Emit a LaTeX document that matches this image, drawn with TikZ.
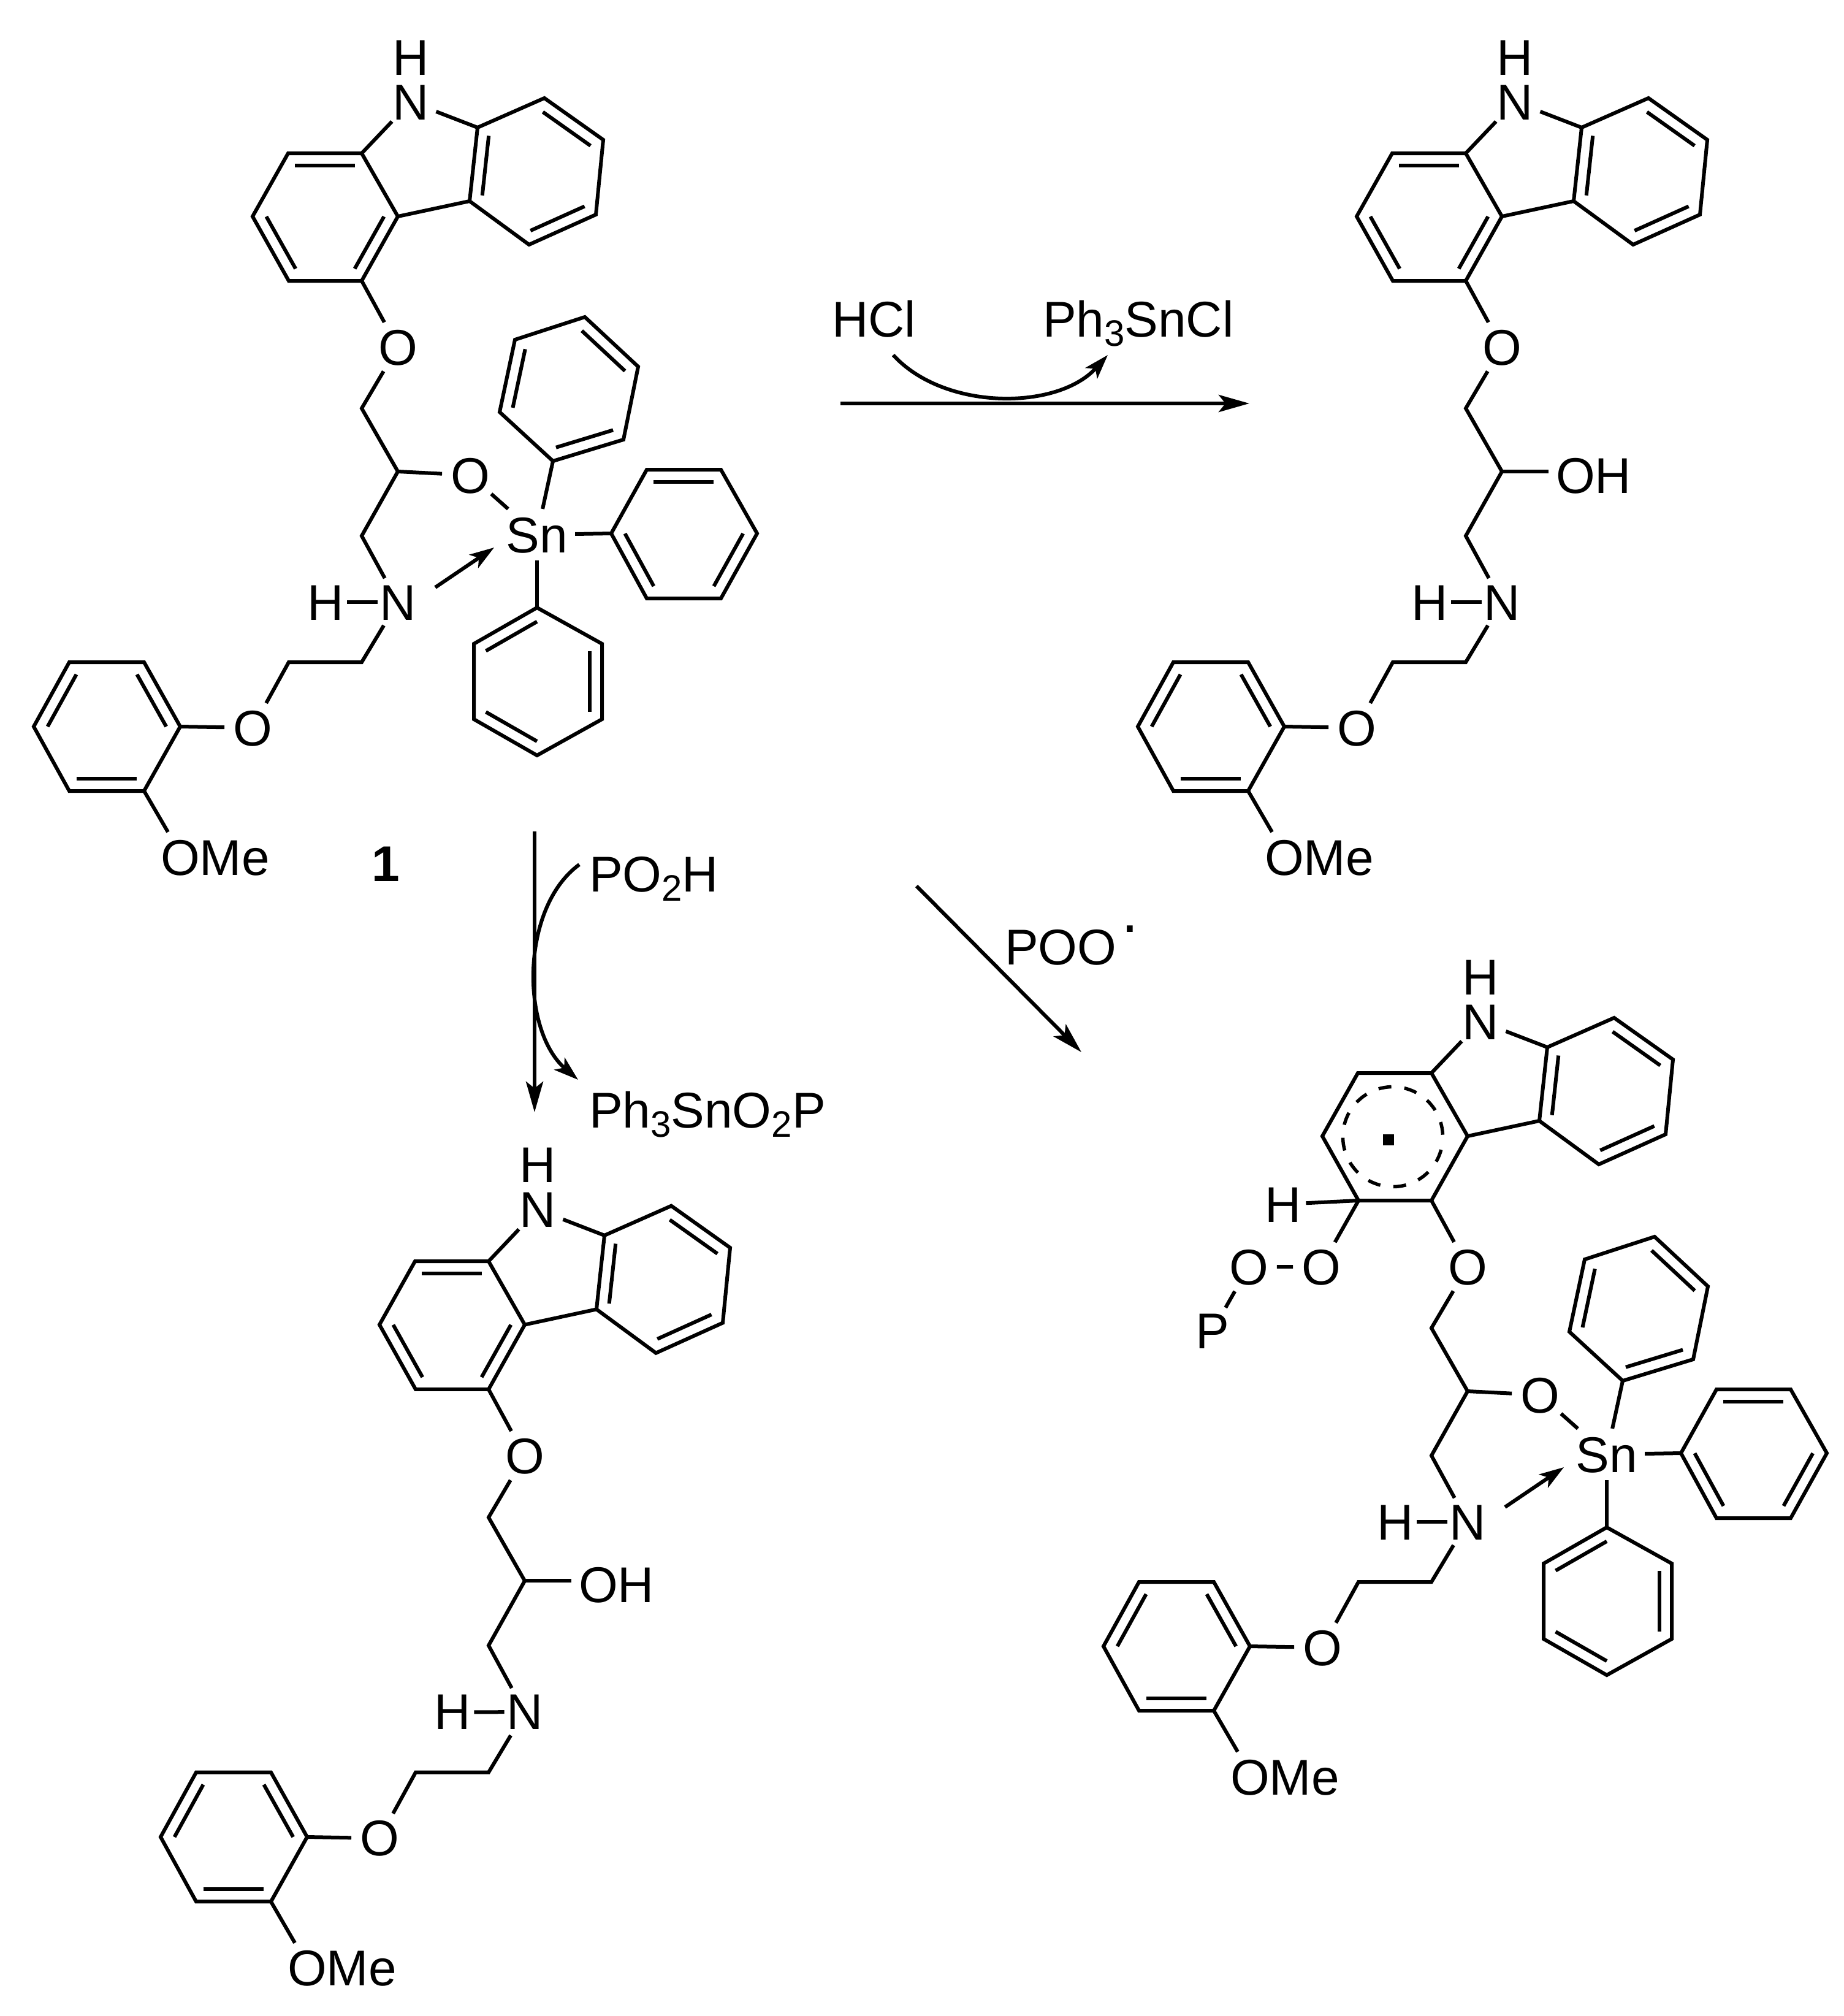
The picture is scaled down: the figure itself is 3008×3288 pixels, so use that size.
\documentclass[tikz,border=0pt]{standalone}
\usepackage{fontspec}
\setmainfont{Liberation Sans}
\usetikzlibrary{calc,arrows.meta}
\newcommand{\dbl}[3]{\draw ($(#1)!.19!(#3)$) -- ($(#2)!.19!(#3)$);}
\newcommand{\sbs}[1]{\raisebox{-15pt}{\fontsize{60}{60}\selectfont #1}}
\tikzset{
  chemfont/.style={font=\fontsize{82}{82}\selectfont},
  atom/.style={shape=circle,inner sep=0pt,text height=58pt,text depth=0pt,chemfont},
  tin/.style={inner xsep=9pt,inner ysep=10pt,text height=58pt,text depth=0pt,chemfont},
  lab/.style={inner sep=0pt,text height=58pt,text depth=0pt,chemfont,anchor=west},
  bigtip/.style={-{Stealth[length=50pt,width=28pt,inset=11pt]}},
  smalltip/.style={-{Stealth[length=40pt,width=26pt,inset=10pt]}},
}
% carbazole, chain and anisole shared by all four molecules
\newcommand{\skeleton}{%
  \coordinate (a1) at (590,250); \coordinate (a2) at (470,250); \coordinate (a3) at (412,353);
  \coordinate (a4) at (471,458); \coordinate (a5) at (590,458); \coordinate (a6) at (649,353);
  \coordinate (ca) at (530,354);
  \coordinate (b1) at (779,208); \coordinate (b2) at (888,160); \coordinate (b3) at (984,228);
  \coordinate (b4) at (972,350); \coordinate (b5) at (863,399); \coordinate (b6) at (766,328);
  \coordinate (cb) at (875,279);
  \node[atom] (N9) at (670,166) {N};
  \node[lab,anchor=center] (H9) at (670,93) {H};
  \node[atom] (O1) at (649,566) {O};
  \coordinate (c1) at (590,666); \coordinate (c2) at (649,769); \coordinate (c3) at (590,874);
  \node[atom] (N2) at (649,982) {N};
  \node[atom] (H2) at (531,982) {H};
  \coordinate (c4) at (590,1080); \coordinate (c5) at (471,1080);
  \node[atom] (O3) at (412,1187) {O};
  \coordinate (d1) at (294,1185); \coordinate (d2) at (235,1080); \coordinate (d3) at (113,1080);
  \coordinate (d4) at (55,1185); \coordinate (d5) at (113,1290); \coordinate (d6) at (235,1290);
  \coordinate (cd) at (174,1185);
  \node[lab] (OMe) at (259,1398) {OMe};
  \coordinate (ob) at (274,1357);
  \draw (a1)--(a2)--(a3)--(a4)--(a5)--(a6)--cycle;
  \draw (b1)--(b2)--(b3)--(b4)--(b5)--(b6)--cycle;
  \draw (a6)--(b6);
  \draw (a1)--(N9)--(b1);
  \dbl{b1}{b6}{cb}\dbl{b2}{b3}{cb}\dbl{b4}{b5}{cb}
  \draw (a5)--(O1)--(c1)--(c2)--(c3)--(N2)--(c4)--(c5)--(O3)--(d1);
  \draw[shorten <=-9pt,shorten >=-11pt] (H2)--(N2);
  \draw (d1)--(d2)--(d3)--(d4)--(d5)--(d6)--cycle;
  \dbl{d1}{d2}{cd}\dbl{d3}{d4}{cd}\dbl{d5}{d6}{cd}
  \draw (d6)--(ob);
}
\newcommand{\leftdbl}{\dbl{a1}{a2}{ca}\dbl{a3}{a4}{ca}\dbl{a5}{a6}{ca}}
\newcommand{\hydroxy}{%
  \node[lab,inner sep=9pt] (OH) at (725,775) {OH};
  \draw (c2)--(OH.west |- c2);
}
\newcommand{\tingroup}{%
  \node[atom] (O2) at (767,775) {O};
  \node[tin] (Sn) at (876,872) {Sn};
  \coordinate (e1) at (902,752); \coordinate (e2) at (1017,717); \coordinate (e3) at (1041,598);
  \coordinate (e4) at (954,517); \coordinate (e5) at (840,554); \coordinate (e6) at (815,672);
  \coordinate (ce) at (928,635);
  \coordinate (f1) at (997,870); \coordinate (f2) at (1055,766); \coordinate (f3) at (1176,766);
  \coordinate (f4) at (1235,870); \coordinate (f5) at (1176,976); \coordinate (f6) at (1055,976);
  \coordinate (cf) at (1115,871);
  \coordinate (g1) at (876,991); \coordinate (g2) at (982,1050); \coordinate (g3) at (982,1173);
  \coordinate (g4) at (876,1232); \coordinate (g5) at (773,1173); \coordinate (g6) at (773,1050);
  \coordinate (cg) at (876,1111);
  \draw (c2)--(O2)--(Sn);
  \draw (e1)--(e2)--(e3)--(e4)--(e5)--(e6)--cycle;
  \dbl{e1}{e2}{ce}\dbl{e3}{e4}{ce}\dbl{e5}{e6}{ce}
  \draw (f1)--(f2)--(f3)--(f4)--(f5)--(f6)--cycle;
  \dbl{f2}{f3}{cf}\dbl{f4}{f5}{cf}\dbl{f6}{f1}{cf}
  \draw (g1)--(g2)--(g3)--(g4)--(g5)--(g6)--cycle;
  \dbl{g2}{g3}{cg}\dbl{g4}{g5}{cg}\dbl{g6}{g1}{cg}
  \draw (Sn)--(e1); \draw (Sn)--(f1); \draw (Sn)--(g1);
  \coordinate (ar1) at (710,958); \coordinate (ar2) at (806,893);
  \draw[smalltip] (ar1)--(ar2);
}
\begin{document}
\begin{tikzpicture}[x=1pt,y=-1pt,line width=6pt,line join=miter]
\useasboundingbox (0,0) rectangle (3008,3288);
\fill[white] (0,0) rectangle (3008,3288);
% molecule 1
\begin{scope}[name prefix=m1-]
  \skeleton\leftdbl\tingroup
\end{scope}
\node[lab,font=\fontsize{82}{82}\selectfont\bfseries,anchor=center] (label1) at (629,1408) {1};
% molecule 2
\begin{scope}[name prefix=m2-,shift={(1801,0)}]
  \skeleton\leftdbl\hydroxy
\end{scope}
% molecule 3
\begin{scope}[name prefix=m3-,shift={(207,1806)},yscale=1.004]
  \skeleton\leftdbl\hydroxy
\end{scope}
% molecule 4
\begin{scope}[name prefix=m4-,shift={(1745,1500)}]
  \skeleton\tingroup
\end{scope}
\draw[line width=5.5pt,dash pattern=on 21pt off 21.4pt,dash phase=21pt] (2272,1854) circle[radius=81.5];
\node[fill=black,minimum size=18pt,inner sep=0pt] (rad) at (2265,1859) {};
\node[atom] (H5) at (2093,1964) {H};
\node[atom] (O5) at (2155,2066) {O};
\node[atom] (O6) at (2037,2066) {O};
\node[atom] (P5) at (1978,2170) {P};
\coordinate (C5) at (2216,1958);
\draw[shorten <=-7pt] (H5)--(C5);
\draw (C5)--(O5)--(O6)--(P5);
% reaction arrows
\node[lab] (hcl) at (1354,520) {HCl};
\node[lab] (ph3cl) at (1698,520) {Ph\sbs{3}SnCl};
\coordinate (r1a) at (1371,658); \coordinate (r1b) at (2038,658);
\draw[bigtip] (r1a)--(r1b);
\coordinate (r1c) at (1457,579); \coordinate (r1d) at (1807,579);
\draw[smalltip] (r1c) .. controls (1540,670) and (1725,670) .. (r1d);
\node[lab] (po2h) at (958,1425) {PO\sbs{2}H};
\node[lab] (ph3p) at (958,1810) {Ph\sbs{3}SnO\sbs{2}P};
\coordinate (r2a) at (872,1356); \coordinate (r2b) at (872,1814);
\draw[bigtip] (r2a)--(r2b);
\coordinate (r2c) at (945,1410); \coordinate (r2d) at (943,1761);
\draw[smalltip] (r2c) .. controls (849,1480) and (849,1680) .. (r2d);
\coordinate (r3a) at (1495,1445); \coordinate (r3b) at (1764,1716);
\draw[bigtip] (r3a)--(r3b);
\node[lab] (poo) at (1636,1544) {POO\hspace{8pt}\raisebox{53pt}{\fontsize{100}{100}\selectfont .}};
\end{tikzpicture}
\end{document}
